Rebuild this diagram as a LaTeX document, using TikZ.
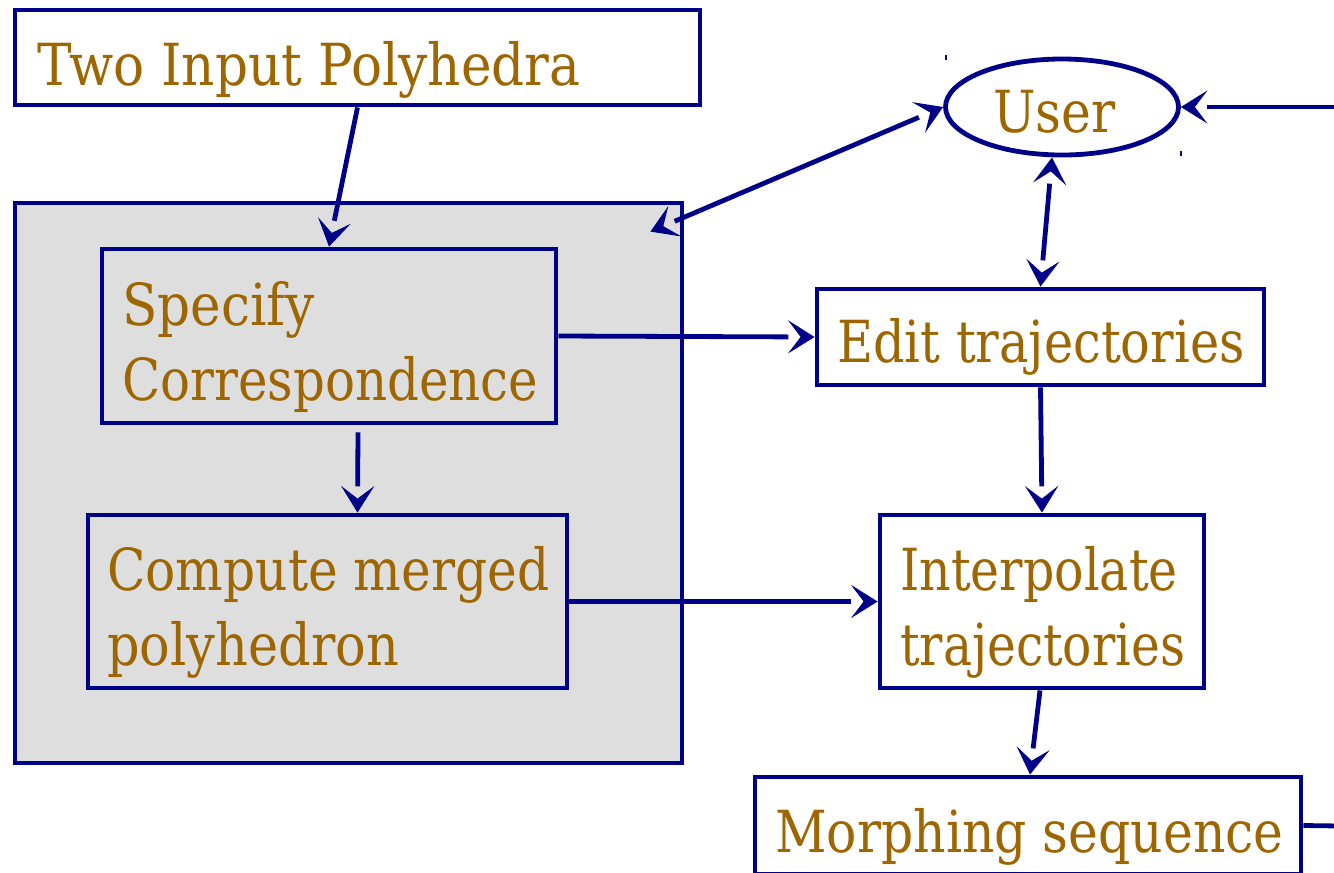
\documentclass[tikz,border=0pt]{standalone}
\usepackage{graphicx}
\usepackage{fontspec}
\setmainfont{DejaVu Serif Condensed}
\usetikzlibrary{arrows.meta,fit,shapes.geometric}
\definecolor{navy}{RGB}{0,0,136}
\definecolor{label}{RGB}{158,102,0}
\definecolor{panel}{RGB}{222,222,222}

% barbed arrow head; the shaft stops at the back of the barbs
\pgfdeclarearrow{
  name = Barb,
  setup code = {
    \pgfarrowssettipend{0pt}
    \pgfarrowssetbackend{-20pt}
    \pgfarrowssetlineend{-19.75pt}
    \pgfarrowshullpoint{0pt}{0pt}
    \pgfarrowsupperhullpoint{-20pt}{12.5pt}
  },
  drawing code = {
    \pgfsetfillcolor{navy}
    \pgfpathmoveto{\pgfqpoint{0pt}{0pt}}
    \pgfpathlineto{\pgfqpoint{-20pt}{12.5pt}}
    \pgfpathlineto{\pgfqpoint{-10.5pt}{0pt}}
    \pgfpathlineto{\pgfqpoint{-20pt}{-12.5pt}}
    \pgfpathclose
    \pgfusepathqfill
  },
}

\tikzset{
  box/.style={draw=navy, line width=3.6pt, inner sep=0pt, fill=white},
  txt/.style={text=label, inner sep=0pt, anchor=base west, font=\fontsize{43.5}{52}\selectfont},
  arr/.style={draw=navy, line width=3.6pt, -{Barb}},
  darr/.style={draw=navy, line width=3.6pt, {Barb}-{Barb}},
  wire/.style={draw=navy, line width=3.6pt},
}
\newcommand{\sq}[2]{\scalebox{#1}[1]{#2}}
\begin{document}
\begin{tikzpicture}[x=0.75pt, y=-0.75pt]
\useasboundingbox (0,0) rectangle (1334,872);

% outer grey panel
\node[box, fill=panel, fit={(15,203) (682,763)}] (panel) {};

% boxes
\node[box, fit={(15,10) (700,105)}] (twoin) {};
\node[box, fill=none, fit={(102,249) (556,423)}] (spec) {};
\node[box, fill=none, fit={(88,515) (567,688)}] (comp) {};
\node[box, fit={(817,289) (1264,385)}] (edit) {};
\node[box, fit={(880,515) (1204,688)}] (interp) {};
\node[box, fit={(755,777) (1301,874)}] (morph) {};
\node[draw=navy, line width=3.6pt, ellipse, inner sep=0pt, minimum width=233*0.75pt, minimum height=96*0.75pt] (user) at (1062,107) {};

% small ticks at the ellipse's frame corners
\draw[navy, line width=0.8pt] (946,55) -- (946,60);
\draw[navy, line width=0.8pt] (1181,151) -- (1181,156);

% labels
\node[txt] (t1) at (37,85) {\sq{0.99}{Two Input Polyhedra}};
\node[txt] (t2) at (122,325) {\sq{0.99}{Specify}};
\node[txt] (t3) at (122,400) {\sq{0.956}{Correspondence}};
\node[txt] (t4) at (107,590) {\sq{0.963}{Compute merged}};
\node[txt] (t5) at (107,665) {\sq{0.976}{polyhedron}};
\node[txt] (t6) at (993,132) {\sq{0.967}{User}};
\node[txt] (t7) at (837,362) {\sq{0.946}{Edit trajectories}};
\node[txt] (t8) at (900,590) {\sq{0.939}{Interpolate}};
\node[txt] (t9) at (900,665) {\sq{0.934}{trajectories}};
\node[txt] (t10) at (775,852) {\sq{0.966}{Morphing sequence}};

% free ends at the right margin
\coordinate (rin) at (1340,107);
\coordinate (rout) at (1340,826);

% connectors
\draw[arr] (twoin.south) -- (spec.north);
\draw[darr] ([shift={(-34,31)}]panel.north east) -- (user.west);
\draw[darr] ([shift={(-10,0)}]user.south) -- (edit.north);
\draw[arr] (spec.east) -- (edit.west);
\draw[arr] ([shift={(29,7)}]spec.south) -- ([shift={(30,0)}]comp.north);
\draw[arr] (comp.east) -- (interp.west);
\draw[arr] (edit.south) -- (interp.north);
\draw[arr] ([shift={(-2,0)}]interp.south) -- ([shift={(2,0)}]morph.north);
\draw[arr] (rin) -- (user.east);
\draw[wire] (morph.east) -- (rout);
\end{tikzpicture}
\end{document}
